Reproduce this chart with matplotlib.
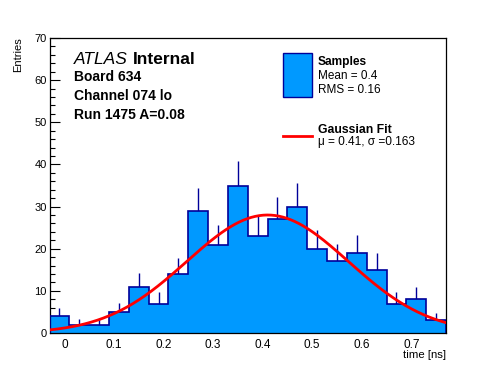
import numpy as np
import matplotlib
matplotlib.use('Agg')
import matplotlib.pyplot as plt
from matplotlib.ticker import MultipleLocator

plt.rcParams['font.family'] = ['Liberation Sans', 'DejaVu Sans']

# histogram: 20 bins of 0.04 ns from -0.03 to 0.77
bin_lo = -0.03
bin_width = 0.04
counts = np.array([4, 2, 2, 5, 11, 7, 14, 29, 21, 35,
                   23, 27, 30, 20, 17, 19, 15, 7, 8, 3])

# gaussian fit parameters
fit_amp = 28.0
fit_mu = 0.41
fit_sigma = 0.163

edges = bin_lo + bin_width * np.arange(len(counts) + 1)
centers = 0.5 * (edges[:-1] + edges[1:])

fill_col = '#0099ff'
line_col = '#000099'

fig = plt.figure(figsize=(4.96, 3.72), dpi=100)
ax = fig.add_axes([49.5 / 496, 1 - 333 / 372, (446 - 49.5) / 496, (333 - 38) / 372])

# error bars (lower half hidden under the fill, like ROOT)
err = np.sqrt(counts)
ax.vlines(centers, counts - err, counts + err, color=line_col, lw=1.0, zorder=1)
ax.bar(edges[:-1], counts, width=bin_width, align='edge', color=fill_col, lw=0, zorder=2)
ax.stairs(counts, edges, color=line_col, lw=1.2, zorder=3)

xf = np.linspace(edges[0], edges[-1], 400)
yf = fit_amp * np.exp(-0.5 * ((xf - fit_mu) / fit_sigma) ** 2)
ax.plot(xf, yf, color='#ff0000', lw=2.0, zorder=4)

ax.set_xlim(edges[0], edges[-1])
ax.set_ylim(0, 70)

ax.xaxis.set_minor_locator(MultipleLocator(0.02))
ax.yaxis.set_major_locator(MultipleLocator(10))
ax.yaxis.set_minor_locator(MultipleLocator(2))
ax.set_xticks(np.round(np.arange(0, 0.71, 0.1), 1))
ax.set_xticklabels(['0', '0.1', '0.2', '0.3', '0.4', '0.5', '0.6', '0.7'])

ax.tick_params(axis='x', which='major', direction='in', length=6.5, width=0.8, labelsize=8.5, pad=4.5)
ax.tick_params(axis='x', which='minor', direction='in', length=3.2, width=0.8)
ax.tick_params(axis='y', which='major', direction='in', length=7.0, width=0.8, labelsize=8, pad=2)
ax.tick_params(axis='y', which='minor', direction='in', length=3.6, width=0.8)
for s in ax.spines.values():
    s.set_linewidth(0.9)

fig.text(446 / 496, 1 - 358 / 372, 'time [ns]', ha='right', va='baseline', fontsize=8.2)
fig.text(18 / 496, 1 - 37 / 372, 'Entries', ha='center', va='top', rotation=90, fontsize=8)

# labels
fig.text(74 / 496, 1 - 64.5 / 372, 'ATLAS', style='italic', fontsize=12.5, va='baseline')
fig.text(133 / 496, 1 - 64.5 / 372, 'Internal', weight='bold', fontsize=12.5, va='baseline')
fig.text(74 / 496, 1 - 81 / 372, 'Board 634', weight='bold', fontsize=10, va='baseline')
fig.text(74 / 496, 1 - 100 / 372, 'Channel 074 lo', weight='bold', fontsize=10, va='baseline')
fig.text(74 / 496, 1 - 119 / 372, 'Run 1475 A=0.08', weight='bold', fontsize=10, va='baseline')

# legend
lx0, lx1 = 283.3 / 496, 311.7 / 496
fig.patches.append(plt.Rectangle((lx0, 1 - 96.7 / 372), lx1 - lx0, (96.7 - 53.3) / 372,
                                 transform=fig.transFigure, facecolor=fill_col,
                                 edgecolor=line_col, lw=1.0))
fig.text(317.7 / 496, 1 - 65 / 372, 'Samples', weight='bold', fontsize=8.6, va='baseline')
fig.text(317.7 / 496, 1 - 79.3 / 372, 'Mean = 0.4', fontsize=8.5, va='baseline')
fig.text(317.7 / 496, 1 - 93.3 / 372, 'RMS = 0.16', fontsize=8.5, va='baseline')
fig.lines.append(plt.Line2D([lx0, lx1], [1 - 136 / 372] * 2, transform=fig.transFigure,
                            color='#ff0000', lw=2.0))
fig.text(317.7 / 496, 1 - 132.7 / 372, 'Gaussian Fit', weight='bold', fontsize=8.8, va='baseline')
fig.text(317.7 / 496, 1 - 145 / 372, 'μ = 0.41, σ =0.163', fontsize=8.6, va='baseline')

fig.savefig('out.png', dpi=100)
